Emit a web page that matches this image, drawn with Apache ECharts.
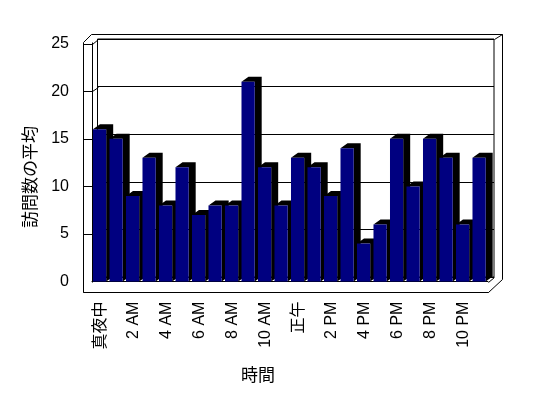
<!DOCTYPE html>
<html>
<head>
<meta charset="utf-8">
<script src="https://cdn.jsdelivr.net/npm/echarts@6/dist/echarts.min.js"></script>
<style>
  html, body { margin: 0; padding: 0; background: #fff; }
  #main { width: 548px; height: 398px; }
</style>
</head>
<body>
<div id="main"></div>
<script>
  // 時間帯
  const hours = ['真夜中', '1 AM', '2 AM', '3 AM', '4 AM', '5 AM', '6 AM', '7 AM', '8 AM', '9 AM', '10 AM', '11 AM',
    '正午', '1 PM', '2 PM', '3 PM', '4 PM', '5 PM', '6 PM', '7 PM', '8 PM', '9 PM', '10 PM', '11 PM'];
  // 訪問数の平均
  const visits = [16, 15, 9, 13, 8, 12, 7, 8, 8, 21, 12, 8, 13, 12, 9, 14, 4, 6, 15, 10, 15, 13, 6, 13];
  // 目盛り
  const yTicks = [0, 5, 10, 15, 20, 25];

  const FONT = '"Liberation Sans", Arial, "Noto Sans CJK JP", sans-serif';
  // 手前の面
  const front = { left: 92, right: 488, top: 43.6, bottom: 281.6 };
  // 奥の壁
  const back = { left: 97.5, right: 494, top: 39, bottom: 277 };
  // 棒の奥行き
  const DX = 7, DY = 5;

  const chart = echarts.init(document.getElementById('main'));

  const option = {
    animation: false,
    backgroundColor: '#fff',
    grid: [{
      left: front.left, top: front.top,
      width: front.right - front.left, height: front.bottom - front.top
    }, {
      left: back.left, top: back.top,
      width: back.right - back.left, height: back.bottom - back.top,
      show: true, borderColor: '#000', borderWidth: 1, backgroundColor: '#fff'
    }],
    xAxis: [{
      gridIndex: 0,
      type: 'category',
      data: hours,
      boundaryGap: true,
      axisLine: { lineStyle: { color: '#000', width: 1 } },
      axisTick: { interval: 0, length: 10, lineStyle: { color: '#000' } },
      axisLabel: {
        interval: 1, rotate: 90, margin: 20,
        color: '#000', fontSize: 16, fontFamily: FONT
      },
      name: '時間',
      nameLocation: 'middle',
      nameGap: 86,
      nameTextStyle: { color: '#000', fontSize: 17, fontFamily: FONT, padding: [0, 64, 0, 0] }
    }, {
      gridIndex: 1, type: 'category', data: hours, show: false
    }],
    yAxis: [{
      gridIndex: 0,
      type: 'value',
      min: yTicks[0], max: yTicks[yTicks.length - 1], interval: 5,
      axisLine: { show: false },
      axisTick: { show: false },
      splitLine: { show: false },
      axisLabel: { margin: 23, color: '#000', fontSize: 16, fontFamily: FONT },
      name: '訪問数の平均',
      nameLocation: 'middle',
      nameGap: 50,
      nameTextStyle: { color: '#000', fontSize: 17, fontFamily: FONT, padding: [0, 29, 0, 0] }
    }, {
      gridIndex: 1,
      type: 'value',
      min: yTicks[0], max: yTicks[yTicks.length - 1], interval: 5,
      axisLine: { show: false },
      axisTick: { show: false },
      axisLabel: { show: false },
      splitLine: { lineStyle: { color: '#000', width: 1 } }
    }],
    series: [{
      type: 'custom',
      xAxisIndex: 0,
      yAxisIndex: 0,
      clip: false,
      z: 5,
      data: visits.map((v, i) => [i, v]),
      renderItem: function (params, api) {
        const top = api.coord([api.value(0), api.value(1)]);
        const base = api.coord([api.value(0), 0]);
        const band = api.size([1, 0])[0];
        const L = top[0] - band * 0.44;
        const R = L + band * 0.8;
        const T = top[1], B = base[1];
        return {
          type: 'group',
          children: [{
            type: 'polygon',
            shape: { points: [[L, T], [L + DX, T - DY], [R + DX, T - DY], [R + DX, B - DY], [R, B], [R, T]] },
            style: { fill: '#000' }
          }, {
            type: 'rect',
            shape: { x: L, y: T, width: R - L, height: B - T },
            style: { fill: '#000080' }
          }]
        };
      }
    }]
  };
  chart.setOption(option);

  // 壁と床の枠線
  const c = v => Math.round(v) + 0.5;
  const line = { stroke: '#000', lineWidth: 1, fill: null };
  const xL = 83, xI = front.left, slabB = 291.5;
  const elems = [];
  elems.push({ type: 'polygon', z: 100, silent: true, style: line,
    shape: { points: [[c(xL), c(slabB)], [c(xL), c(42)], [c(91), c(34)], [c(502), c(34)], [c(502), c(279)], [c(front.right), c(slabB)]] } });
  elems.push({ type: 'polyline', z: 100, silent: true, style: line,
    shape: { points: [[c(front.right), c(front.bottom)], [c(back.right), c(back.bottom)]] } });
  elems.push({ type: 'polyline', z: 100, silent: true, style: line,
    shape: { points: [[c(back.right), c(back.top)], [c(502), c(34)]] } });
  elems.push({ type: 'polyline', z: 1, silent: true, style: line,
    shape: { points: [[c(xI), c(front.bottom)], [c(xI), c(42)]] } });
  elems.push({ type: 'polyline', z: 100, silent: true, style: line,
    shape: { points: [[c(xL), c(slabB)], [c(front.right), c(slabB)]] } });
  yTicks.slice(1).forEach(v => {
    const y = chart.convertToPixel({ yAxisIndex: 0 }, v);
    const yb = chart.convertToPixel({ yAxisIndex: 1 }, v);
    elems.push({ type: 'polyline', z: 1, silent: true, style: line,
      shape: { points: [[c(xL), c(y)], [c(xI), c(y)], [c(back.left), c(yb)]] } });
  });
  chart.setOption({ graphic: { elements: elems } });
</script>
</body>
</html>
